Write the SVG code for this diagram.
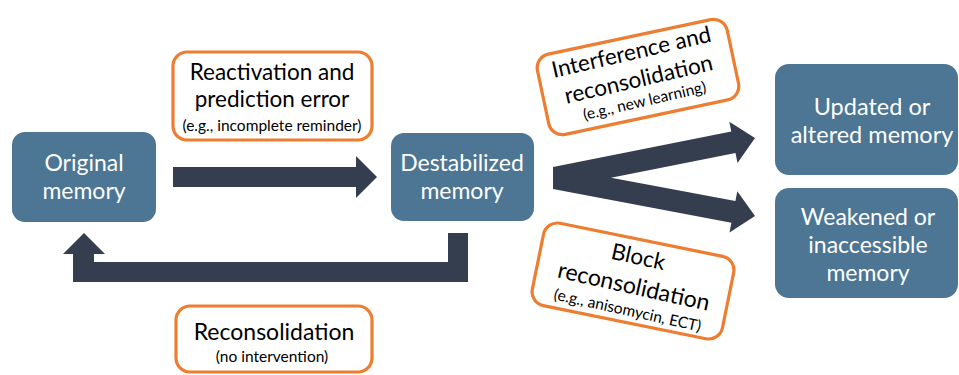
<svg xmlns="http://www.w3.org/2000/svg" width="959" height="375" viewBox="0 0 959 375">
<style>
.node{fill:#4D7594}
.nt{fill:#ffffff;font-family:Lato,"Open Sans",sans-serif;font-size:23px;text-anchor:middle}
.ob{fill:#ffffff;stroke:#ED7D31;stroke-width:3.2}
.lt{fill:#000000;font-family:Lato,"Open Sans",sans-serif;font-size:22.5px;text-anchor:middle}
.st{fill:#000000;font-family:Lato,"Open Sans",sans-serif;font-size:15.5px;text-anchor:middle}
.ar{fill:#353E4F}
</style>
<rect width="959" height="375" fill="#ffffff"/>
<g id="connectors">
<polygon class="ar" points="173,167 356,167 356,156 377,177 356,198 356,187 173,187"/>
<polygon class="ar" points="448,233 468,233 468,282 73,282 73,254 63,254 84,233 105,254 94,254 94,262 448,262"/>
<polygon class="ar" points="553,167 731.3,131.5 729.3,121.7 755,138 737.5,162.9 735.5,153.1 611,177.7 735.4,201.1 737.3,191.3 755,216 729.5,232.5 731.4,222.7 553,189"/>
</g>
<g id="original">
<rect class="node" x="12" y="132" width="144" height="90" rx="13"/>
<text class="nt" x="84" y="171">Original</text>
<text class="nt" x="84" y="199">memory</text>
</g>
<g id="destabilized">
<rect class="node" x="391" y="133" width="143" height="88" rx="13"/>
<text class="nt" x="462" y="171">Destabilized</text>
<text class="nt" x="462" y="199">memory</text>
</g>
<g id="updated">
<rect class="node" x="775" y="64" width="183" height="111" rx="14"/>
<text class="nt" x="872" y="115" style="font-size:23.5px">Updated or</text>
<text class="nt" x="872" y="143" style="font-size:23.5px">altered memory</text>
</g>
<g id="weakened">
<rect class="node" x="775" y="188" width="183" height="110" rx="14"/>
<text class="nt" x="868" y="225">Weakened or</text>
<text class="nt" x="868" y="253">inaccessible</text>
<text class="nt" x="868" y="281">memory</text>
</g>
<g id="reactivation">
<rect class="ob" x="173" y="52" width="199" height="88" rx="14"/>
<text class="lt" x="272" y="80">Reactivation and</text>
<text class="lt" x="272" y="107">prediction error</text>
<text class="st" x="272" y="131">(e.g., incomplete reminder)</text>
</g>
<g id="reconsolidation">
<rect class="ob" x="176" y="306" width="196" height="66" rx="14"/>
<text class="lt" x="274" y="340" style="font-size:23px">Reconsolidation</text>
<text class="st" x="272" y="362">(no intervention)</text>
</g>
<g id="interference" transform="translate(638,77) rotate(-12)">
<rect class="ob" x="-97" y="-41" width="194" height="82" rx="14"/>
<g transform="rotate(-1)">
<text class="lt" x="-1" y="-18">Interference and</text>
<text class="lt" x="0" y="10">reconsolidation</text>
<text class="st" x="1" y="30">(e.g., new learning)</text>
</g>
</g>
<g id="block" transform="translate(633,281) rotate(11.5)">
<rect class="ob" x="-97" y="-42" width="194" height="84" rx="14"/>
<g transform="rotate(1)">
<text class="lt" x="0" y="-17">Block</text>
<text class="lt" x="2" y="13" style="font-size:23px">reconsolidation</text>
<text class="st" x="1" y="35">(e.g., anisomycin, ECT)</text>
</g>
</g>
</svg>
